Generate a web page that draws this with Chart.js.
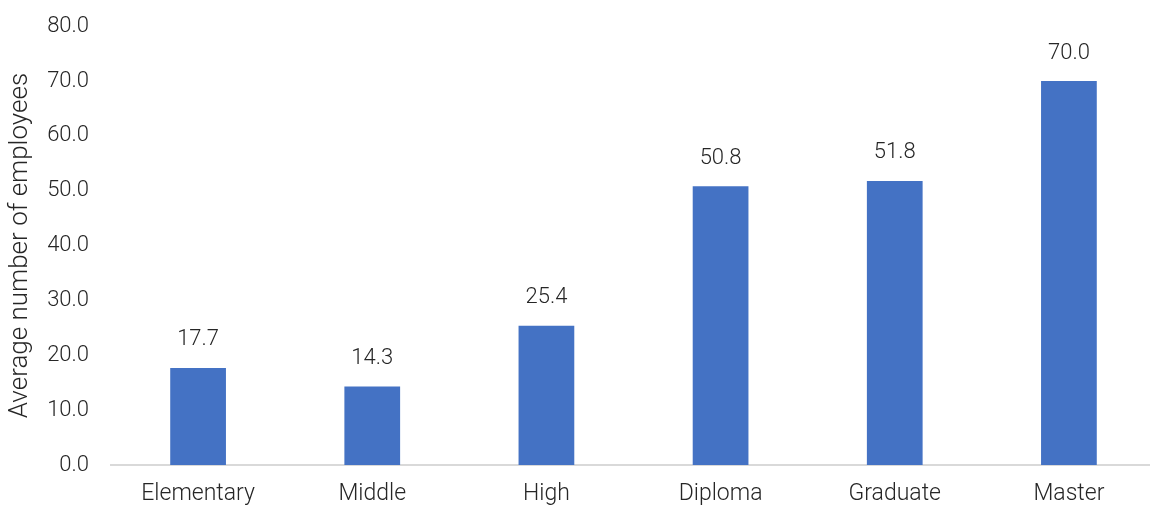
<!DOCTYPE html>
<html>
<head>
<meta charset="utf-8">
<script src="https://cdn.jsdelivr.net/npm/chart.js@4"></script>
<style>
  html, body { margin: 0; padding: 0; background: #fff; overflow: hidden; }
  #wrap { width: 1156px; height: 516px; position: relative; top: -9px; }
</style>
</head>
<body>
<div id="wrap"><canvas id="grafico"></canvas></div>
<script>
// Datos del gráfico
const niveles = ['Elementary', 'Middle', 'High', 'Diploma', 'Graduate', 'Master'];
const promedios = [17.7, 14.3, 25.4, 50.8, 51.8, 70.0];
const ticksY = [0, 10, 20, 30, 40, 50, 60, 70, 80];

const colorTexto = '#262626';
const fuente = 'Roboto, "DejaVu Sans", sans-serif';

// Etiquetas de valor encima de cada barra
const etiquetasValor = {
    id: 'etiquetasValor',
    afterDatasetsDraw(chart) {
        const ctx = chart.ctx;
        const meta = chart.getDatasetMeta(0);
        ctx.save();
        ctx.font = '300 22px ' + fuente;
        ctx.fillStyle = colorTexto;
        ctx.textAlign = 'center';
        ctx.textBaseline = 'middle';
        meta.data.forEach((barra, i) => {
            ctx.fillText(promedios[i].toFixed(1), barra.x, barra.y - 28);
        });
        ctx.restore();
    }
};

new Chart(document.getElementById('grafico'), {
    type: 'bar',
    data: {
        labels: niveles,
        datasets: [{
            data: promedios,
            backgroundColor: '#4472C4',
            barPercentage: 0.32,
            categoryPercentage: 1
        }]
    },
    options: {
        responsive: true,
        maintainAspectRatio: false,
        animation: false,
        layout: { padding: 0 },
        plugins: { legend: { display: false }, tooltip: { enabled: false } },
        scales: {
            x: {
                grid: { display: false, drawTicks: false },
                border: { color: '#d9d9d9', width: 2 },
                ticks: { color: colorTexto, font: { family: fuente, size: 23, weight: 300 }, padding: 15 },
                afterFit(scale) { scale.height = 42; }
            },
            y: {
                min: 0,
                max: 80,
                afterBuildTicks(scale) { scale.ticks = ticksY.map(v => ({ value: v })); },
                grid: { display: false, drawTicks: false },
                border: { display: false },
                ticks: {
                    color: colorTexto,
                    font: { family: fuente, size: 22, weight: 300 },
                    padding: 22,
                    callback: v => v.toFixed(1)
                },
                title: {
                    display: true,
                    text: 'Average number of employees',
                    color: colorTexto,
                    font: { family: fuente, size: 26, weight: 300 },
                    padding: { top: 5, bottom: 0 }
                },
                afterFit(scale) { scale.width = 111; }
            }
        }
    },
    plugins: [etiquetasValor]
});
</script>
</body>
</html>
